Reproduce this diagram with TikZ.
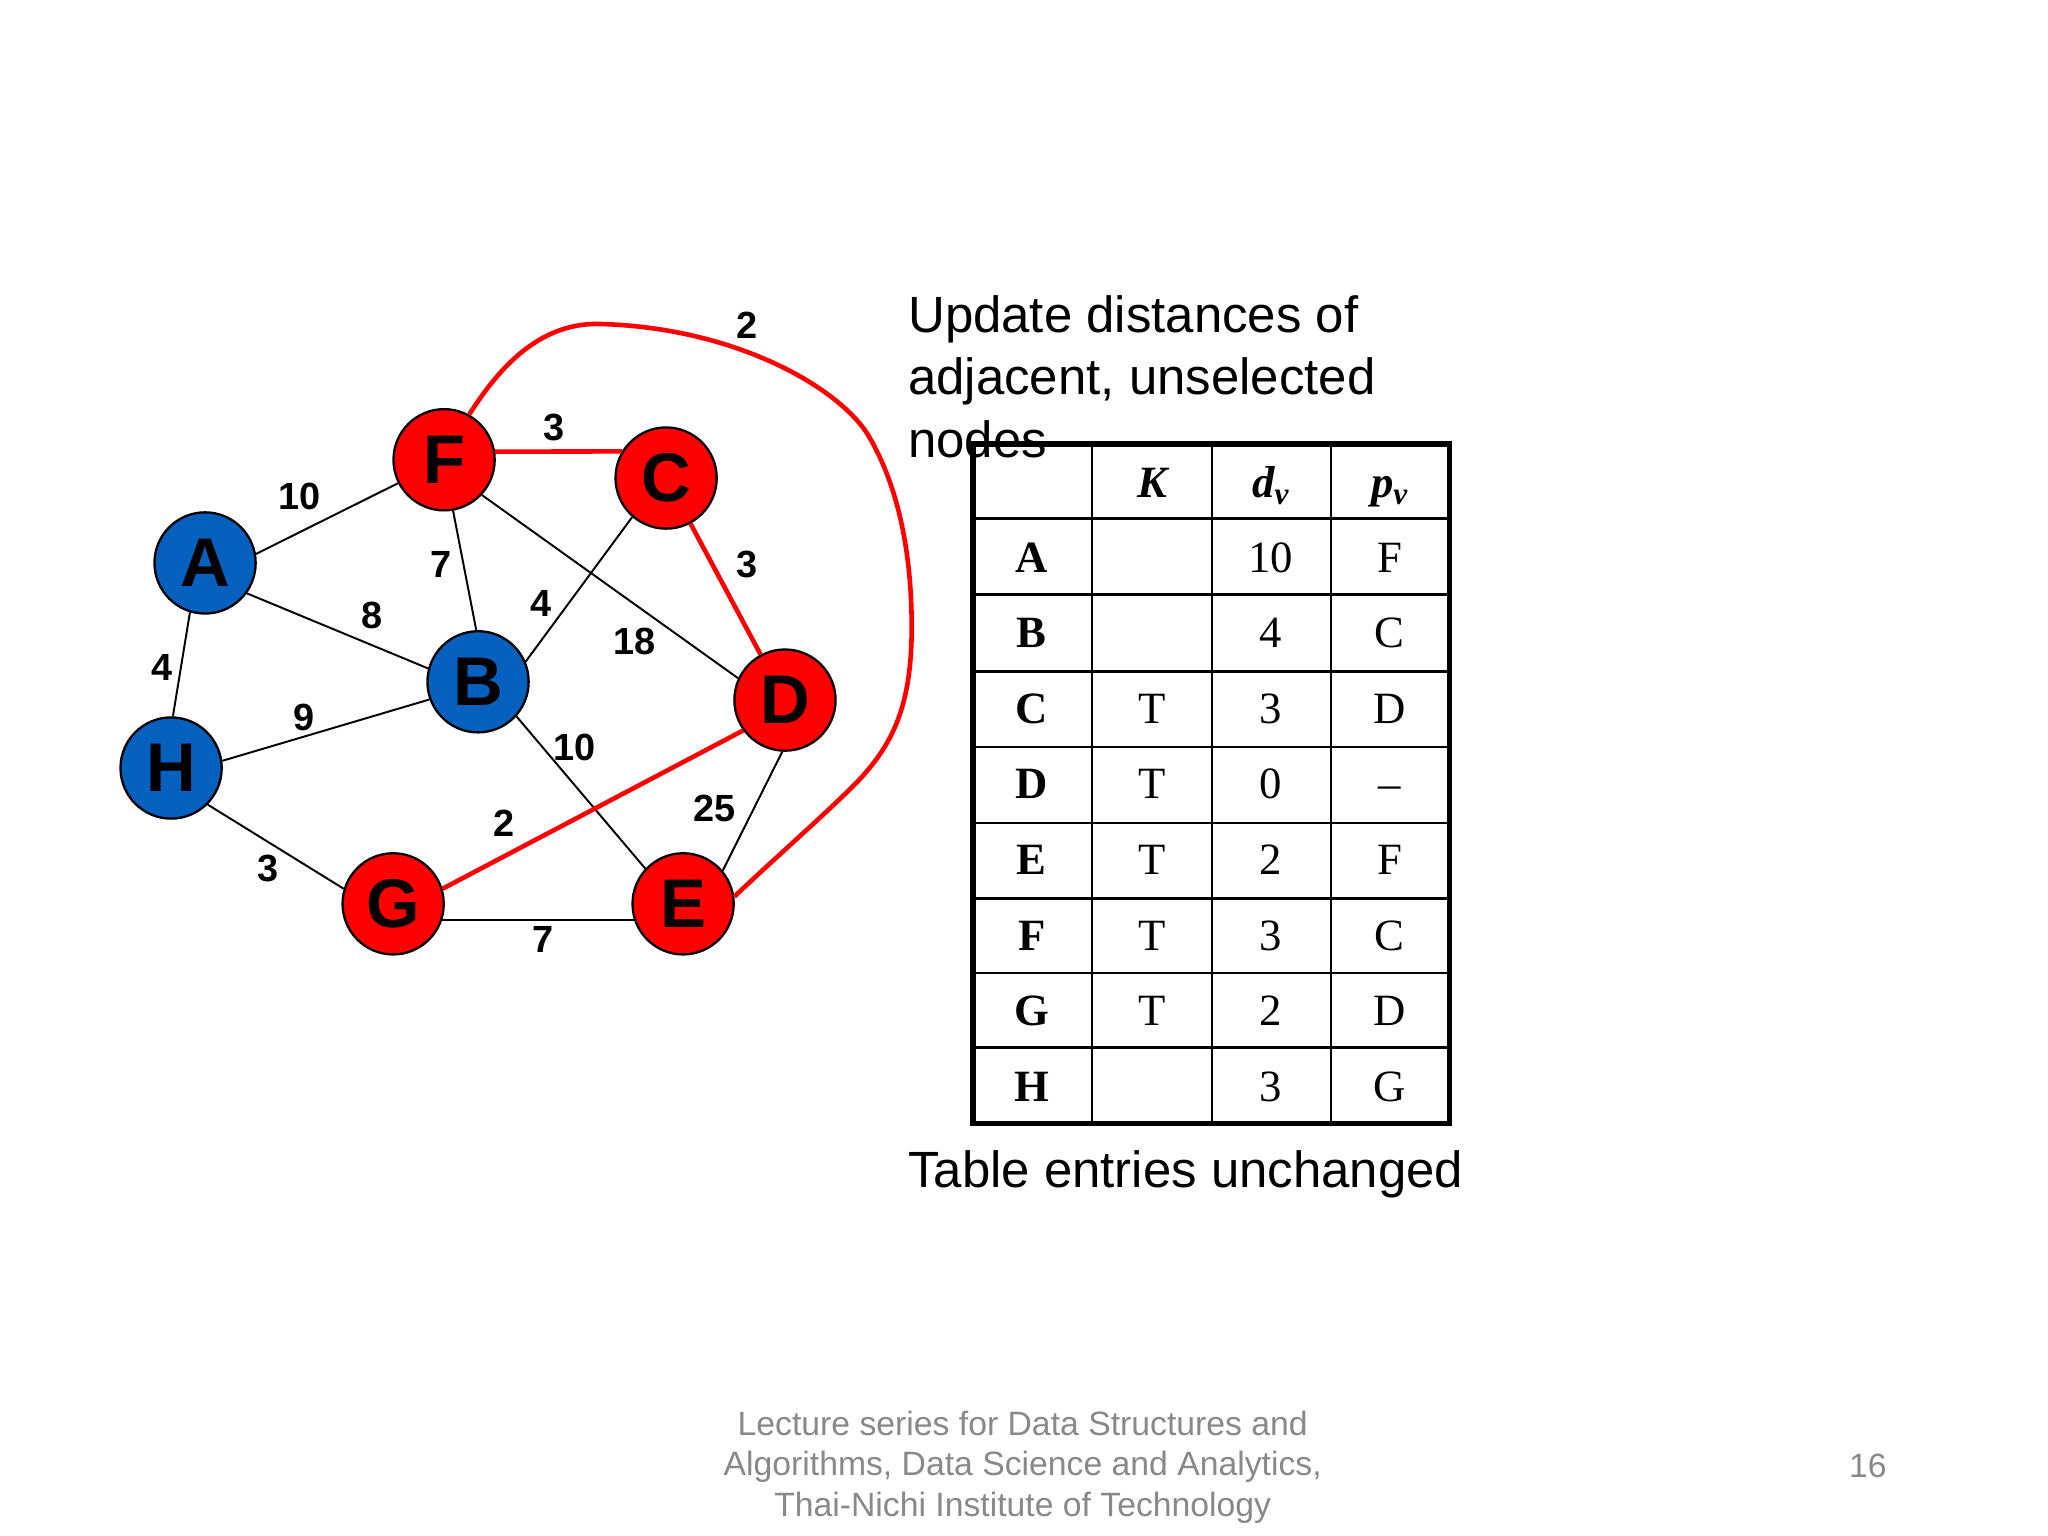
\documentclass[tikz,border=0pt]{standalone}
\usepackage{fontspec}
\setmainfont{Liberation Serif}
\setsansfont{Liberation Sans}
\usepackage{tikz}

\definecolor{vred}{RGB}{255,0,0}
\definecolor{vblue}{RGB}{5,96,190}
\definecolor{footgray}{RGB}{137,137,137}

\tikzset{
	vtx/.style={circle, draw=black, line width=1pt, minimum size=1.55cm, inner sep=0pt, font=\sffamily\bfseries\fontsize{30}{35}\selectfont},
	redvtx/.style={vtx, fill=vred},
	bluevtx/.style={vtx, fill=vblue},
	edge/.style={line width=0.85pt, black},
	rededge/.style={line width=2pt, vred},
	wt/.style={font=\sffamily\bfseries\fontsize{16.5}{19}\selectfont, inner sep=0pt},
	cell/.style={font=\fontsize{19.5}{23}\selectfont, inner sep=0pt, anchor=base},
	rowcell/.style={font=\bfseries\fontsize{19.5}{23}\selectfont, inner sep=0pt, anchor=base},
	headcell/.style={font=\bfseries\itshape\fontsize{19.5}{23}\selectfont, inner sep=0pt, anchor=base},
	bigtext/.style={font=\sffamily\fontsize{22.2}{27.2}\selectfont, inner sep=0pt, align=left},
	foot/.style={font=\sffamily\fontsize{14.7}{17.6}\selectfont, text=footgray, inner sep=0pt}
}

\begin{document}
\begin{tikzpicture}[x=0.02cm, y=-0.02cm]
	%%%%% START %%%%%
	\path[fill=white, use as bounding box] (0,0) rectangle (1568,1176);
	
	% vertices
	\node[redvtx]  (F) at (340,352) {F};
	\node[redvtx]  (C) at (510,366) {C};
	\node[bluevtx] (A) at (157,431) {A};
	\node[bluevtx] (B) at (366,522) {B};
	\node[redvtx]  (D) at (601,536) {D};
	\node[bluevtx] (H) at (131,588) {H};
	\node[redvtx]  (G) at (301,692) {G};
	\node[redvtx]  (E) at (523,692) {E};
	
	% black edges
	\draw[edge] (A.10) -- (F.207);
	\draw[edge] (A.-36) -- (B.165);
	\draw[edge] (A.253) -- (H.88);
	\draw[edge] (F.-80) -- (B.92);
	\draw[edge] (F.-43) -- (D.155);
	\draw[edge] (C.229) -- (B.23);
	\draw[edge] (H.8) -- (B.200);
	\draw[edge] (B.-42) -- (E.137);
	\draw[edge] (H.-45) -- (G.163);
	\draw[edge] (G.-18) -- (E.198);
	\draw[edge] (D.267) -- (E.40);
	
	% red edges
	\draw[rededge] (F.9) -- (C.149);
	\draw[rededge] (C) -- (D);
	\draw[rededge] (G.17) -- (D.216);
	\draw[rededge] (F.61) .. controls (380,285) and (410,248) .. (457,248)
		.. controls (560,250) and (640,295) .. (664,332)
		.. controls (690,375) and (698,430) .. (698,480)
		.. controls (698,540) and (684,570) .. (655,600)
		.. controls (630,625) and (590,660) .. (E.8);
	
	% weights
	\node[wt] (wAF) at (229,380) {10};
	\node[wt] (wFC) at (424,327) {3};
	\node[wt] (wFE) at (572,249) {2};
	\node[wt] (wFB) at (338,432) {7};
	\node[wt] (wAB) at (285,471) {8};
	\node[wt] (wCB) at (414,462) {4};
	\node[wt] (wFD) at (486,491) {18};
	\node[wt] (wCD) at (572,432) {3};
	\node[wt] (wAH) at (124,511) {4};
	\node[wt] (wHB) at (233,549) {9};
	\node[wt] (wBE) at (440,572) {10};
	\node[wt] (wGD) at (386,630) {2};
	\node[wt] (wDE) at (547,619) {25};
	\node[wt] (wHG) at (205,665) {3};
	\node[wt] (wGE) at (416,719) {7};
	
	% texts
	\node[bigtext, anchor=north west] (upd) at (695,226) {Update distances of\\adjacent, unselected\\nodes};
	\node[bigtext, anchor=base west] (same) at (695,909) {Table entries unchanged};
	
	% table
	\foreach \x in {836,928,1019}
		\draw[line width=1.1pt] (\x,340) -- (\x,860);
	\foreach \y in {397,455,514,572,630,688,745,802}
		\draw[line width=1.1pt] (745,\y) -- (1110,\y);
	\draw[line width=2.3pt] (745,340) rectangle (1110,860);
	
	\node[headcell] (hK) at (882,381) {K};
	\node[headcell] (hd) at (973,381) {d\textsubscript{v}};
	\node[headcell] (hp) at (1064,381) {p\textsubscript{v}};
	
	\foreach \v/\k/\d/\p [count=\i] in {A//10/F, B//4/C, C/T/3/D, D/T/0/–, E/T/2/F, F/T/3/C, G/T/2/D, H//3/G}{
		\pgfmathsetmacro{\yb}{397+57.9*(\i-0.5)+12}
		\node[rowcell] (v\i) at (790,\yb) {\v};
		\node[cell] (k\i) at (882,\yb) {\k};
		\node[cell] (d\i) at (973,\yb) {\d};
		\node[cell] (p\i) at (1064,\yb) {\p};
	}
	
	% footer
	\node[foot, align=center, anchor=north] (lec) at (783,1080) {Lecture series for Data Structures and\\Algorithms, Data Science and Analytics,\\Thai-Nichi Institute of Technology};
	\node[foot, anchor=base] (pgno) at (1430,1131) {16};
	
	%%%%% END %%%%%
\end{tikzpicture}
\end{document}
